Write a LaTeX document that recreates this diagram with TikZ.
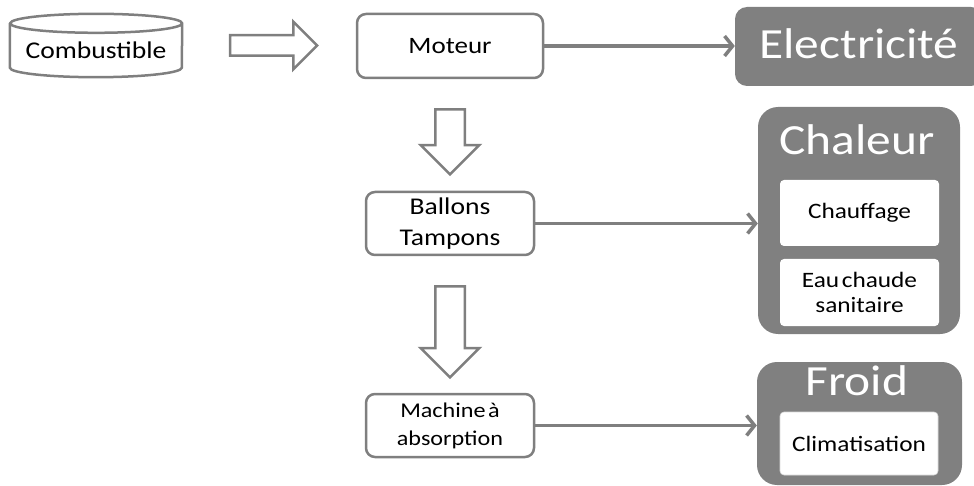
\documentclass[tikz,border=0pt]{standalone}
\usepackage{fontspec}
\setmainfont{Carlito}[FakeStretch=1.15]
\usetikzlibrary{shapes.arrows,arrows.meta}
\definecolor{boxgray}{HTML}{808080}
\definecolor{linegray}{HTML}{7F7F7F}
\newcommand{\fsz}[2]{\fontsize{#1}{#2}\selectfont}
\begin{document}
\begin{tikzpicture}[x=1pt,y=-1pt]
  \tikzstyle{box}=[rectangle,rounded corners=9pt,draw=linegray,line width=2.5pt,fill=white,
    align=center,inner sep=0pt,minimum width=168pt,minimum height=63pt]
  \tikzstyle{outbox}=[rectangle,rounded corners=16pt,fill=boxgray,inner sep=0pt]
  \tikzstyle{bigtxt}=[anchor=base,text=white,inner sep=0pt,font=\fsz{43}{45}]
  \tikzstyle{sub}=[rectangle,rounded corners=4pt,fill=white,inner sep=0pt,align=center,
    font=\fsz{22}{25},minimum width=159pt,minimum height=66pt]
  \tikzstyle{big}=[single arrow,draw=linegray,line width=2.5pt,fill=white,
    single arrow tip angle=90]
  \tikzstyle{cyl}=[draw=linegray,line width=2.5pt]
  \tikzstyle{link}=[draw=linegray,line width=3.5pt,-{Straight Barb[length=8pt,width=20pt]}]
  \useasboundingbox (0,0) rectangle (974,486);

  % source and engine
  \node[inner sep=0pt,minimum width=172pt,minimum height=44pt] (comb) at (96,45.5) {};
  \draw[cyl] (comb.north west) -- (comb.south west)
    arc[start angle=180,end angle=360,x radius=86pt,y radius=9.5pt] -- (comb.north east)
    arc[start angle=0,end angle=360,x radius=86pt,y radius=9.5pt];
  \node[anchor=base,inner sep=0pt,font=\fsz{24}{26}] (combtxt) at (96,59) {Combustible};
  \node[big,inner sep=9pt,minimum height=87pt,single arrow head extend=13.5pt] (feed) at (268.5,45.5) {};
  \node[box,minimum width=186pt,minimum height=64pt,font=\fsz{23.5}{26}] (moteur) at (450,46) {Moteur};

  % chain down
  \node[big,shape border rotate=270,inner sep=13.5pt,minimum height=65pt,single arrow head extend=14.5pt] (down1) at (450,134.5) {};
  \node[box,font=\fsz{24}{31}] (ballons) at (450,223.5) {Ballons\\Tampons};
  \node[big,shape border rotate=270,inner sep=13.5pt,minimum height=91pt,single arrow head extend=14.5pt] (down2) at (450,324.5) {};
  \node[box,font=\fsz{21}{28}] (machine) at (450,425.5) {Machine\hspace{.12em}à\\absorption};

  % outputs
  \node[outbox,minimum width=248pt,minimum height=79pt,rounded corners=12pt] (elec) at (859,46.5) {};
  \node[bigtxt] (electxt) at (859,59) {Electricité};

  \node[outbox,minimum width=202pt,minimum height=227pt,rounded corners=20pt] (chaleur) at (859,220.5) {};
  \node[bigtxt] (chaleurtxt) at (857,155) {Chaleur};
  \node[sub] (chauffage) at (859.5,213) {Chauffage};
  \node[sub,minimum height=67pt] (eau) at (859.5,292.5) {Eau\hspace{.12em}chaude\\sanitaire};

  \node[outbox,minimum width=205pt,minimum height=123pt,rounded corners=20pt] (froid) at (859.5,423.5) {};
  \node[bigtxt] (froidtxt) at (857,395) {Froid};
  \node[sub,draw=black!15,line width=0.6pt,minimum width=158pt,minimum height=63pt] (clim) at (859,443.5) {Climatisation};

  \draw[link] (moteur.east) -- (elec.west |- moteur.east);
  \draw[link] (ballons.east) -- (chaleur.west |- ballons.east);
  \draw[link] (machine.east) -- (froid.west |- machine.east);
\end{tikzpicture}
\end{document}
